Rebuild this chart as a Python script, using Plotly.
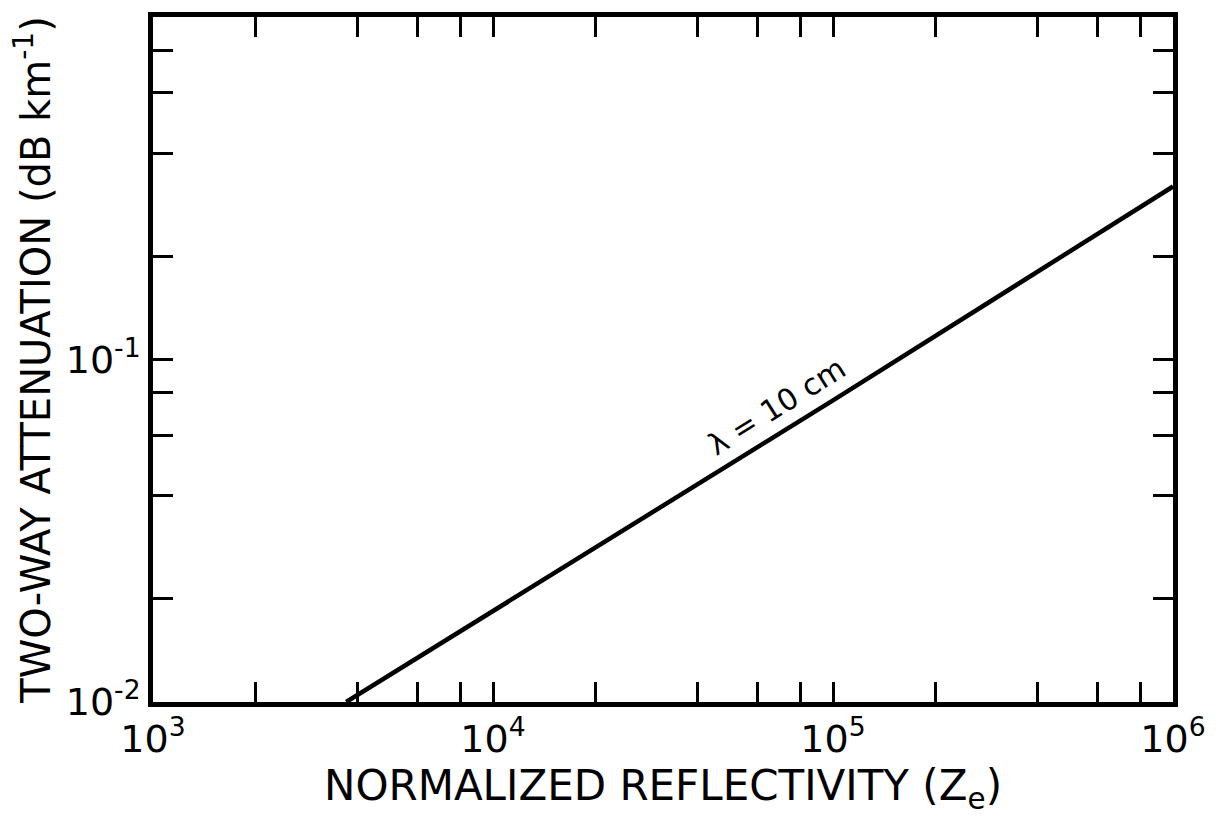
import math
import plotly.graph_objects as go

# Two-way attenuation versus normalized reflectivity at S band
reflectivity = [3.7e3, 1.0e5, 1.0e6]
attenuation = [0.010, 0.076, 0.32]
curve_label = "λ = 10 cm"
label_at_reflectivity = 6.9e4
label_at_attenuation = 0.0607

x_decades = [1e3, 1e4, 1e5, 1e6]
x_decade_labels = ["10<sup>3</sup>", "10<sup>4</sup>", "10<sup>5</sup>", "10<sup>6</sup>"]
y_decades = [1e-2, 1e-1]
y_decade_labels = ["10<sup>-2</sup>", "10<sup>-1</sup>"]
minor_steps = [2, 4, 6, 8]


def minor_values(first_decade, n_decades):
    vals = []
    for k in range(n_decades):
        base = first_decade * 10 ** k
        vals.extend(base * m for m in minor_steps)
    return vals


x_minor = minor_values(1e3, 3)
y_minor = minor_values(1e-2, 2)

font_family = "DejaVu Sans, Liberation Sans, sans-serif"

fig = go.Figure()
fig.add_trace(go.Scatter(
    x=reflectivity, y=attenuation, mode="lines",
    line=dict(color="black", width=4.5), showlegend=False, hoverinfo="skip",
))

# curve label sitting just above the line, rotated along it
fig.add_annotation(
    x=math.log10(label_at_reflectivity), y=math.log10(label_at_attenuation),
    xref="x", yref="y",
    text=curve_label, showarrow=False, textangle=-32,
    font=dict(family=font_family, size=30, color="black"),
    xshift=-2, yshift=27,
)

axis_common = dict(
    type="log", showgrid=False, zeroline=False,
    showline=True, linecolor="black", linewidth=4.5, mirror="ticks",
    ticks="inside", ticklen=20, tickwidth=3, tickcolor="black",
    tickfont=dict(family=font_family, size=38, color="black"),
)
minor_common = dict(ticks="inside", ticklen=20, tickwidth=3, tickcolor="black", showgrid=False)

fig.update_xaxes(
    **axis_common, range=[3, 6], tickmode="array",
    tickvals=x_decades, ticktext=x_decade_labels,
    minor=dict(**minor_common, tickmode="array", tickvals=x_minor),
    title=dict(text="NORMALIZED REFLECTIVITY (Z<sub>e</sub>)",
               font=dict(family=font_family, size=42, color="black"), standoff=6),
)
fig.update_yaxes(
    **axis_common, range=[-2, 0], tickmode="array",
    tickvals=y_decades, ticktext=y_decade_labels,
    minor=dict(**minor_common, tickmode="array", tickvals=y_minor),
    title=dict(text="TWO-WAY ATTENUATION (dB km<sup>-1</sup>)",
               font=dict(family=font_family, size=40, color="black"), standoff=4),
)

fig.update_layout(
    width=1220, height=836,
    margin=dict(l=153, r=47, t=15, b=134),
    paper_bgcolor="white", plot_bgcolor="white",
)

fig.write_html("out.html")
